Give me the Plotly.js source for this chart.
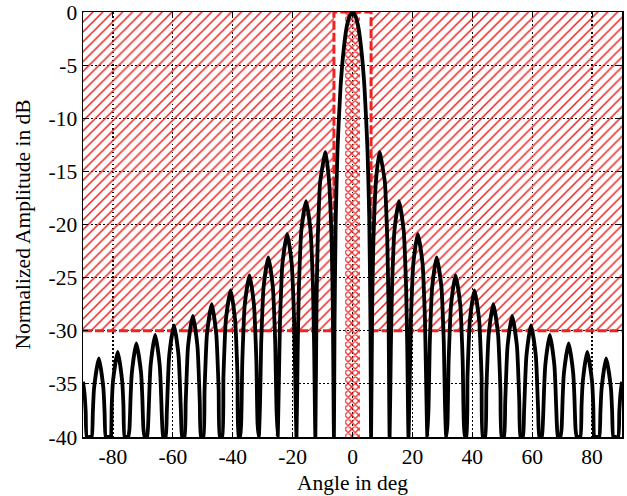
<!DOCTYPE html>
<html>
<head>
<meta charset="utf-8">
<script src="https://cdn.plot.ly/plotly-3.0.1.min.js"></script>
<style>html,body{margin:0;padding:0;background:#fff;}#chart{width:627px;height:496px;}</style>
</head>
<body>
<div id="chart"></div>
<script>
// Array pattern (angle in deg, normalized amplitude in dB, floor -40)
const angleDeg = [
  -90.0, -89.5, -89.1, -88.7,
  -87.9, -87.5, -87.1, -86.7, -86.3, -84.7, -83.2, -82.8, -82.4, -82.0,
  -81.6, -81.2, -80.8, -80.4, -80.0, -78.4, -76.9, -76.5, -76.1, -75.7,
  -75.3, -74.9, -74.5, -74.1, -73.7, -72.2, -70.6, -70.2, -69.8, -69.4,
  -69.0, -68.6, -68.2, -67.8, -67.4, -65.9, -64.4, -64.0, -63.6, -63.2,
  -62.8, -62.4, -62.0, -61.6, -61.2, -59.6, -58.1, -57.7, -57.3, -56.9,
  -56.5, -56.1, -55.7, -55.3, -54.9, -53.3, -51.8, -51.4, -51.0, -50.6,
  -50.2, -49.8, -49.4, -49.0, -48.6, -47.0, -45.5, -45.1, -44.7, -44.3,
  -43.9, -43.5, -43.1, -42.7, -42.3, -40.7, -39.2, -38.8, -38.4, -38.0,
  -37.6, -37.2, -36.8, -36.4, -36.0, -34.4, -32.9, -32.5, -32.1, -31.7,
  -31.3, -30.9, -30.5, -30.1, -29.7, -28.1, -26.6, -26.2, -25.8, -25.4,
  -25.0, -24.6, -24.2, -23.8, -23.4, -21.8, -20.3, -19.9, -19.5, -19.1,
  -18.7, -18.3, -17.9, -17.5, -17.1, -15.5, -14.0, -13.6, -13.2, -12.8,
  -12.4, -12.0, -11.6, -11.2, -10.8, -9.0, -7.8, -7.4, -7.0, -6.6,
  -6.2, -6.0, -5.6, -5.0, -4.0, -3.0, -2.0, -1.0,
  0.0,
  1.0, 2.0, 3.0, 4.0, 5.0, 5.6, 6.0, 6.2,
  6.6, 7.0, 7.4, 7.8, 9.0, 10.8, 11.2, 11.6, 12.0, 12.4,
  12.8, 13.2, 13.6, 14.0, 15.5, 17.1, 17.5, 17.9, 18.3, 18.7,
  19.1, 19.5, 19.9, 20.3, 21.8, 23.4, 23.8, 24.2, 24.6, 25.0,
  25.4, 25.8, 26.2, 26.6, 28.1, 29.7, 30.1, 30.5, 30.9, 31.3,
  31.7, 32.1, 32.5, 32.9, 34.4, 36.0, 36.4, 36.8, 37.2, 37.6,
  38.0, 38.4, 38.8, 39.2, 40.7, 42.3, 42.7, 43.1, 43.5, 43.9,
  44.3, 44.7, 45.1, 45.5, 47.0, 48.6, 49.0, 49.4, 49.8, 50.2,
  50.6, 51.0, 51.4, 51.8, 53.3, 54.9, 55.3, 55.7, 56.1, 56.5,
  56.9, 57.3, 57.7, 58.1, 59.6, 61.2, 61.6, 62.0, 62.4, 62.8,
  63.2, 63.6, 64.0, 64.4, 65.9, 67.4, 67.8, 68.2, 68.6, 69.0,
  69.4, 69.8, 70.2, 70.6, 72.2, 73.7, 74.1, 74.5, 74.9, 75.3,
  75.7, 76.1, 76.5, 76.9, 78.4, 80.0, 80.4, 80.8, 81.2, 81.6,
  82.0, 82.4, 82.8, 83.2, 84.7, 86.3, 86.7, 87.1, 87.5, 87.9,
  88.7, 89.1, 89.5, 90.0
];
const amplitudeDb = [
  -34.8, -35.9, -37.6, -40,
  -40, -40, -40, -37.6, -35.4, -32.6, -35.4, -37.6, -40, -40,
  -40, -40, -40, -37.0, -34.8, -32.0, -34.8, -37.0, -40, -40,
  -40, -40, -39.3, -36.2, -34.0, -31.2, -34.0, -36.2, -39.3, -40,
  -40, -40, -38.5, -35.4, -33.2, -30.4, -33.2, -35.4, -38.5, -40,
  -40, -40, -37.6, -34.5, -32.3, -29.5, -32.3, -34.5, -37.6, -40,
  -40, -40, -36.7, -33.6, -31.4, -28.6, -31.4, -33.6, -36.7, -40,
  -40, -40, -35.6, -32.5, -30.3, -27.5, -30.3, -32.5, -35.6, -40,
  -40, -40, -34.3, -31.2, -29.0, -26.2, -29.0, -31.2, -34.3, -40,
  -40, -38.8, -32.9, -29.8, -27.6, -24.8, -27.6, -29.8, -32.9, -38.8,
  -40, -37.1, -31.2, -28.1, -25.9, -23.1, -25.9, -28.1, -31.2, -37.1,
  -40, -34.9, -29.0, -25.9, -23.7, -20.9, -23.7, -25.9, -29.0, -34.9,
  -40, -31.8, -25.9, -22.8, -20.6, -17.8, -20.6, -22.8, -25.9, -31.8,
  -40, -27.2, -21.3, -18.2, -16.0, -13.2, -16.0, -18.2, -21.3, -27.2,
  -40, -29.5, -19.5, -12.9, -7.1, -3.7, -1.5, -0.4,
  0.0,
  -0.4, -1.5, -3.7, -7.1, -12.9, -19.5, -29.5, -40,
  -27.2, -21.3, -18.2, -16.0, -13.2, -16.0, -18.2, -21.3, -27.2, -40,
  -31.8, -25.9, -22.8, -20.6, -17.8, -20.6, -22.8, -25.9, -31.8, -40,
  -34.9, -29.0, -25.9, -23.7, -20.9, -23.7, -25.9, -29.0, -34.9, -40,
  -37.1, -31.2, -28.1, -25.9, -23.1, -25.9, -28.1, -31.2, -37.1, -40,
  -38.8, -32.9, -29.8, -27.6, -24.8, -27.6, -29.8, -32.9, -38.8, -40,
  -40, -34.3, -31.2, -29.0, -26.2, -29.0, -31.2, -34.3, -40, -40,
  -40, -35.6, -32.5, -30.3, -27.5, -30.3, -32.5, -35.6, -40, -40,
  -40, -36.7, -33.6, -31.4, -28.6, -31.4, -33.6, -36.7, -40, -40,
  -40, -37.6, -34.5, -32.3, -29.5, -32.3, -34.5, -37.6, -40, -40,
  -40, -38.5, -35.4, -33.2, -30.4, -33.2, -35.4, -38.5, -40, -40,
  -40, -39.3, -36.2, -34.0, -31.2, -34.0, -36.2, -39.3, -40, -40,
  -40, -40, -37.0, -34.8, -32.0, -34.8, -37.0, -40, -40, -40,
  -40, -40, -37.6, -35.4, -32.6, -35.4, -37.6, -40, -40, -40,
  -40, -37.6, -35.9, -34.8
];

// Upper mask (sidelobe limit) outline
const maskAngle = [-90, -6.2, -6.2, 6.2, 6.2, 90];
const maskLevel = [-30, -30, 0, 0, -30, -30];
// Hatched forbidden regions
const leftZoneAngle = [-90, -6.2, -6.2, -90];
const rightZoneAngle = [6.2, 90, 90, 6.2];
const zoneLevel = [-30, -30, 0, 0];
// Main-beam strip (cross-hatched)
const beamAngle = [-2.5, 2.5, 2.5, -2.5];
const beamLevel = [-40, -40, 0, 0];

// Axis ticks
const xTickVals = [-80, -60, -40, -20, 0, 20, 40, 60, 80];
const xTickText = ['-80', '-60', '-40', '-20', '0', '20', '40', '60', '80'];
const yTickVals = [0, -5, -10, -15, -20, -25, -30, -35, -40];
const yTickText = ['0', '-5', '-10', '-15', '-20', '-25', '-30', '-35', '-40'];

const red = '#ee2222';
const hatch = {shape: '/', fgcolor: red, size: 7, solidity: 0.22};

const traces = [
  {x: leftZoneAngle, y: zoneLevel, mode: 'lines', fill: 'toself', line: {width: 0},
   fillcolor: 'rgba(0,0,0,0)', fillpattern: hatch, hoverinfo: 'skip'},
  {x: rightZoneAngle, y: zoneLevel, mode: 'lines', fill: 'toself', line: {width: 0},
   fillcolor: 'rgba(0,0,0,0)', fillpattern: hatch, hoverinfo: 'skip'},
  {x: beamAngle, y: beamLevel, mode: 'lines', fill: 'toself', line: {width: 0},
   fillcolor: 'rgba(0,0,0,0)', fillpattern: {shape: 'x', fgcolor: red, size: 5, solidity: 0.45}, hoverinfo: 'skip'},
  {x: maskAngle, y: maskLevel, mode: 'lines', line: {color: red, width: 3, dash: '9px,3px'}},
  {x: angleDeg, y: amplitudeDb, mode: 'lines', line: {color: '#000', width: 3.8, shape: 'spline', smoothing: 0.6}}
];

const font = {family: '"Liberation Serif", "Times New Roman", serif', size: 21.5, color: '#000'};

const layout = {
  width: 627, height: 496,
  margin: {l: 83, r: 5, t: 12, b: 59},
  paper_bgcolor: '#fff', plot_bgcolor: '#fff',
  showlegend: false,
  font: font,
  xaxis: {
    range: [-90, 90], tickvals: xTickVals, ticktext: xTickText,
    showgrid: true, gridcolor: '#000', griddash: '1.5px,2.5px', gridwidth: 1.2,
    zeroline: false, showline: true, linecolor: '#000', linewidth: 1.5, mirror: 'ticks',
    ticks: 'inside', ticklen: 5, tickcolor: '#000',
    tickfont: font,
    title: {text: 'Angle in deg', font: font, standoff: 6}
  },
  yaxis: {
    range: [-40, 0], tickvals: yTickVals, ticktext: yTickText,
    showgrid: true, gridcolor: '#000', griddash: '1.5px,2.5px', gridwidth: 1.2,
    zeroline: false, showline: true, linecolor: '#000', linewidth: 1.5, mirror: 'ticks',
    ticks: 'inside', ticklen: 5, tickcolor: '#000',
    tickfont: font,
    title: {text: 'Normalized Amplitude in dB', font: font, standoff: 12}
  }
};

Plotly.newPlot('chart', traces, layout, {staticPlot: true, displayModeBar: false});
</script>
</body>
</html>
